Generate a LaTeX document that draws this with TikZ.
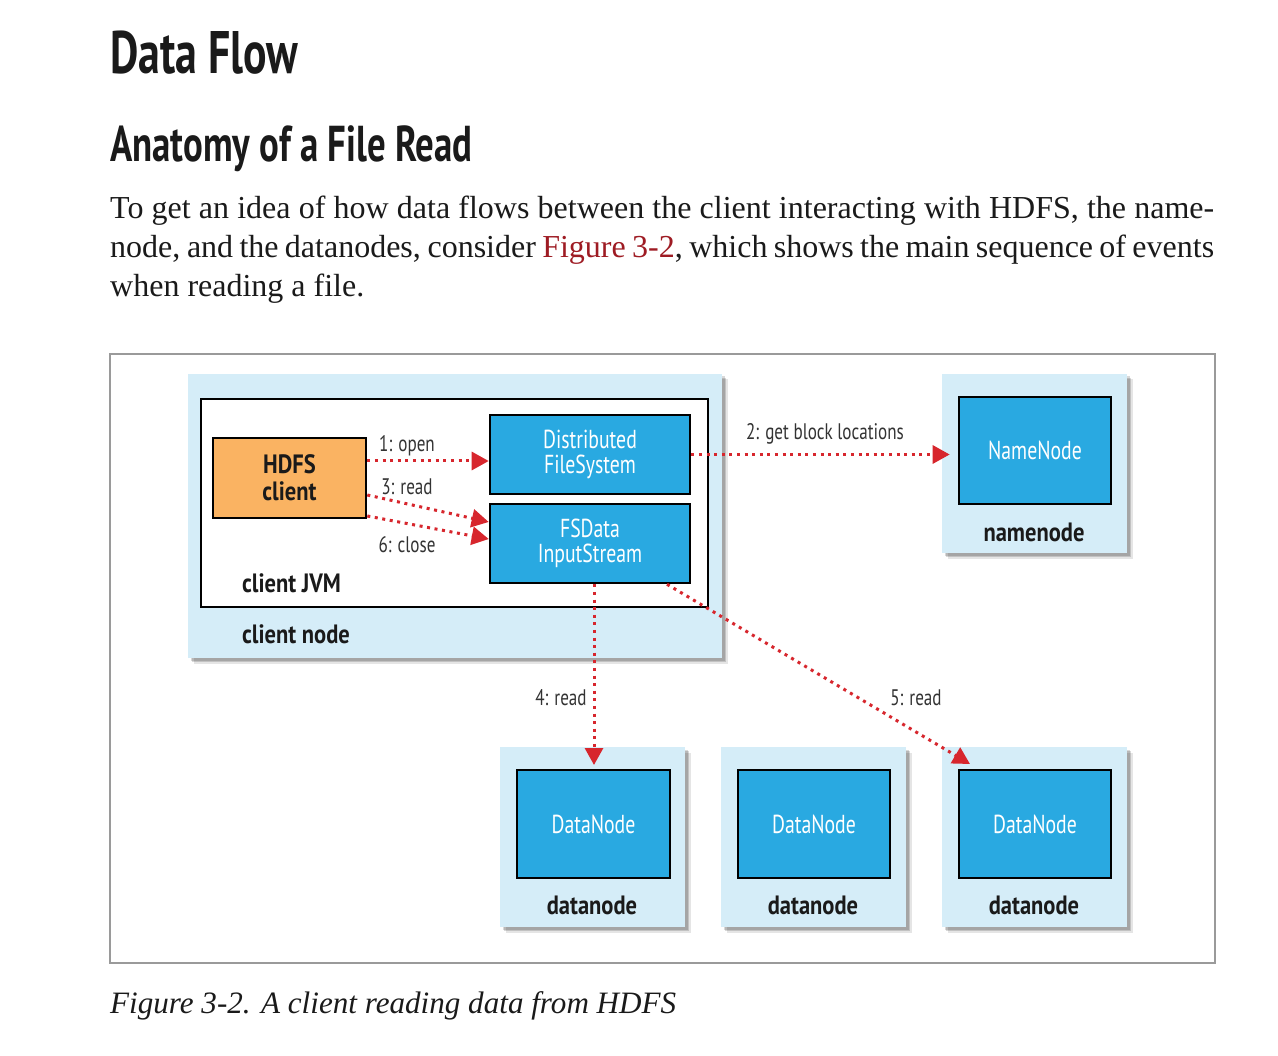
\documentclass[tikz,border=0pt]{standalone}
\usepackage{fontspec}
\setmainfont{Liberation Serif}
\newfontfamily\hfont[FakeStretch=0.73]{PT Sans}
\newfontfamily\dfont[FakeStretch=0.76]{PT Sans}
\newfontfamily\dbfont[FakeStretch=0.85]{PT Sans Bold}
\usetikzlibrary{arrows.meta,shadows,calc}
\definecolor{lightbl}{HTML}{D5EDF8}
\definecolor{boxblue}{HTML}{29A9E1}
\definecolor{boxorange}{HTML}{FAB362}
\definecolor{arrowred}{HTML}{D7262D}
\definecolor{linkred}{HTML}{9E1B23}
\definecolor{framegray}{HTML}{9A9A9A}
\definecolor{labelgray}{HTML}{333333}
\definecolor{textblack}{HTML}{1A1A1A}
\begin{document}
\begin{tikzpicture}[x=1pt,y=-1pt,
  lightbox/.style={fill=lightbl, draw=none, minimum width=185, minimum height=180, inner sep=0,
     drop shadow={shadow xshift=5.5pt, shadow yshift=-5.5pt, opacity=0.10, fill=black},
     drop shadow={shadow xshift=4pt, shadow yshift=-4pt, opacity=0.15, fill=black},
     drop shadow={shadow xshift=2.5pt, shadow yshift=-2.5pt, opacity=0.15, fill=black}},
  jvmbox/.style={fill=white, draw=black, line width=2.6pt, inner sep=0},
  bluebox/.style={fill=boxblue, draw=black, line width=2.6pt, text=white, align=center,
     font=\dfont\fontsize{26}{25.5}\selectfont, inner sep=0},
  orangebox/.style={fill=boxorange, draw=black, line width=2.6pt, text=textblack, align=center,
     font=\dbfont\fontsize{26.5}{27}\selectfont, inner sep=0},
  boldlabel/.style={text=textblack, font=\dbfont\fontsize{26.5}{26}\selectfont, inner sep=0},
  arrlabel/.style={text=labelgray, font=\dfont\fontsize{22.5}{22}\selectfont, inner sep=0},
  redarrow/.style={draw=arrowred, line width=3pt, dash pattern=on 3pt off 4.6pt,
     -{Triangle[length=17pt,width=18pt,fill=arrowred]}},
  txt/.style={anchor=base west, inner sep=0, text=textblack}
]
\useasboundingbox (0,0) rectangle (1278,1056);
\fill[white] (0,0) rectangle (1278,1056);

% headings and paragraph
\node[txt] (h1) at (110,74) {\resizebox{188pt}{!}{\hfont\bfseries\fontsize{40}{40}\selectfont Data Flow}};
\node[txt] (h2) at (110,162) {\resizebox{362pt}{!}{\hfont\bfseries\fontsize{40}{40}\selectfont Anatomy of a File Read}};
\node[txt] (p1) at (110,219) {\fontsize{32}{38}\selectfont\makebox[1104pt][s]{To get an idea of how data flows between the client interacting with HDFS, the name-}};
\node[txt] (p2) at (110,258) {\fontsize{32}{38}\selectfont\makebox[1104pt][s]{node, and the datanodes, consider \textcolor{linkred}{Figure 3-2}, which shows the main sequence of events}};
\node[txt] (p3) at (110,297) {\fontsize{32}{38}\selectfont when reading a file.};

% figure frame
\draw[framegray, line width=1.3pt] (110,354) rectangle (1215,963);

% caption
\node[txt] (cap) at (110,1013) {\resizebox{566pt}{!}{\fontsize{30}{36}\selectfont\itshape Figure 3-2. A client reading data from HDFS}};

% client node
\node[lightbox, minimum width=534, minimum height=284] (cnode) at (455,516) {};
\node[jvmbox, minimum width=507, minimum height=208] (jvm) at (454.5,503) {};
\node[orangebox, minimum width=153, minimum height=80] (hdfs) at (289.5,478) {HDFS\\client};
\node[bluebox, minimum width=200, minimum height=79] (dfs) at (590,454.5) {Distributed\\FileSystem};
\node[bluebox, minimum width=200, minimum height=79] (fsd) at (590,543.5) {FSData\\InputStream};
\node[boldlabel, anchor=base west] (jvmlbl) at (242,592) {client JVM};
\node[boldlabel, anchor=base west] (cnlbl) at (242,643) {client node};

% namenode
\node[lightbox, minimum height=179] (nnode) at (1034.5,463.5) {};
\node[bluebox, minimum width=152, minimum height=107] (nn) at (1035,450.5) {NameNode};
\node[boldlabel, anchor=base] (nnlbl) at (1034,541) {namenode};

% datanodes
\node[lightbox] (dnode1) at (592.5,837) {};
\node[bluebox, minimum width=153, minimum height=108] (dn1) at (593.5,824) {DataNode};
\node[boldlabel, anchor=base] (dnlbl1) at (592,914) {datanode};
\node[lightbox] (dnode2) at (813.5,837) {};
\node[bluebox, minimum width=152, minimum height=108] (dn2) at (814,824) {DataNode};
\node[boldlabel, anchor=base] (dnlbl2) at (813,914) {datanode};
\node[lightbox] (dnode3) at (1034.5,837) {};
\node[bluebox, minimum width=152, minimum height=108] (dn3) at (1035,824) {DataNode};
\node[boldlabel, anchor=base] (dnlbl3) at (1034,914) {datanode};

% arrows
\coordinate (nnin) at ([xshift=-8pt]nn.west);
\coordinate (r4end) at (594,765);
\coordinate (r5end) at (970,764);
\draw[redarrow] ([yshift=17pt]hdfs.east) -- ([yshift=-6.5pt]dfs.west);
\draw[redarrow] ([yshift=-17pt]hdfs.east) -- ([yshift=21.5pt]fsd.west);
\draw[redarrow] ([yshift=-38pt]hdfs.east) -- ([yshift=4.5pt]fsd.west);
\draw[redarrow] (dfs.east) -- (dfs.east -| nnin);
\draw[redarrow] ([xshift=4pt]fsd.south) -- (r4end);
\draw[redarrow] ([xshift=77pt]fsd.south) -- (r5end);

% arrow labels
\node[arrlabel] (l1) at (407,446) {1: open};
\node[arrlabel] (l3) at (407,487) {3: read};
\node[arrlabel] (l6) at (407,545) {6: close};
\node[arrlabel] (l2) at (825,434) {2: get block locations};
\node[arrlabel] (l4) at (561,698) {4: read};
\node[arrlabel] (l5) at (916,698) {5: read};
\end{tikzpicture}
\end{document}
